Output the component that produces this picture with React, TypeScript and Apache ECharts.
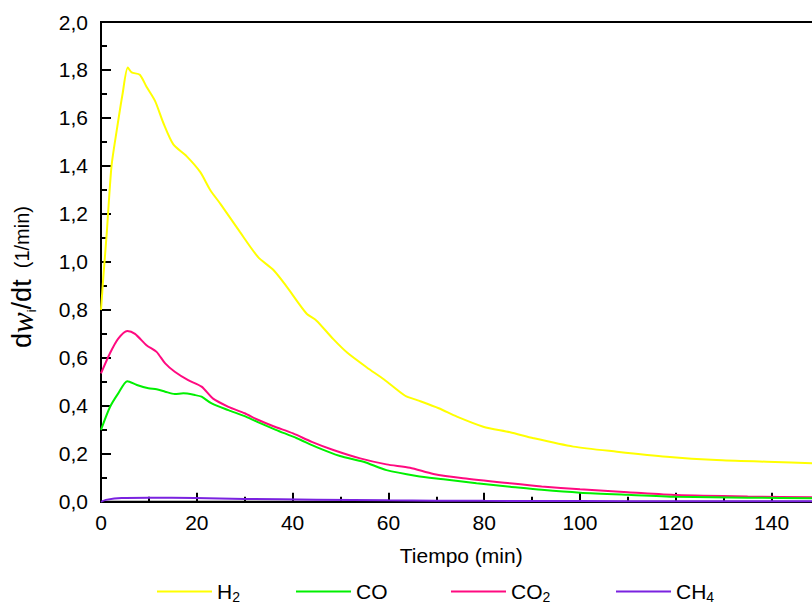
import React, { useEffect, useRef } from "react";
import * as echarts from "echarts";

// Time (min) and mass-loss rate dw_i/dt (1/min) for each gas
const h2Time = [0, 0.5, 1.2, 2.2, 3.3, 4.5, 5.6, 6.4, 8.1, 9.5, 11.3, 13, 15.1, 17.9, 20.7, 22.8, 25, 29, 32.8, 36, 38.8, 42.9, 45, 48.5, 51.5, 55.5, 59.1, 63.5, 66, 70.5, 74.3, 79.8, 85.4, 90.3, 98.6, 107.7, 118.1, 128.5, 139, 150];
const h2Rate = [0.8, 0.94, 1.12, 1.4, 1.55, 1.7, 1.81, 1.79, 1.78, 1.73, 1.67, 1.58, 1.49, 1.44, 1.375, 1.3, 1.24, 1.125, 1.02, 0.966, 0.896, 0.785, 0.755, 0.678, 0.62, 0.56, 0.51, 0.442, 0.424, 0.39, 0.355, 0.313, 0.29, 0.265, 0.23, 0.209, 0.188, 0.174, 0.167, 0.16];

const coTime = [0, 1.9, 3.6, 5.5, 7.5, 9.9, 11.6, 13.4, 15.4, 17.2, 19.6, 21, 23.1, 26.6, 30, 32.5, 36.5, 40.9, 45, 49.9, 54.8, 59.6, 65.9, 71.5, 78.4, 85.4, 92, 100, 110, 120.2, 135, 150];
const coRate = [0.3, 0.396, 0.452, 0.503, 0.487, 0.473, 0.469, 0.459, 0.449, 0.452, 0.445, 0.438, 0.41, 0.382, 0.357, 0.334, 0.3, 0.265, 0.228, 0.191, 0.167, 0.132, 0.108, 0.094, 0.077, 0.063, 0.05, 0.038, 0.029, 0.021, 0.017, 0.015];

const co2Time = [0, 1.9, 3.6, 5.5, 7.1, 9.5, 11.6, 13.4, 15.4, 18.2, 21, 23.4, 26.6, 30, 32.5, 36, 40.1, 44, 48.5, 54.1, 59.6, 64.5, 69.4, 75.6, 85.4, 92, 100, 110, 120.2, 135, 150];
const co2Rate = [0.535, 0.62, 0.68, 0.712, 0.7, 0.653, 0.625, 0.577, 0.542, 0.507, 0.48, 0.43, 0.396, 0.369, 0.344, 0.315, 0.285, 0.25, 0.216, 0.181, 0.156, 0.142, 0.116, 0.098, 0.077, 0.064, 0.052, 0.04, 0.028, 0.022, 0.019];

const ch4Time = [0, 1, 4.3, 10, 19.6, 30, 45, 60, 80, 100, 120, 150];
const ch4Rate = [0, 0.008, 0.016, 0.017, 0.016, 0.012, 0.009, 0.006, 0.004, 0.003, 0.002, 0.002];

const seriesNames = ["H2", "CO", "CO2", "CH4"];
const seriesColors = ["#FFFF00", "#00F000", "#FF0A80", "#7A22E0"];
const legendLeft = [152, 291, 446, 611];

const yTicks = [0, 0.2, 0.4, 0.6, 0.8, 1.0, 1.2, 1.4, 1.6, 1.8, 2.0];

const FONT = "Liberation Sans, Arial, sans-serif";

function zip(t: number[], v: number[]) {
  return t.map((x, i) => [x, v[i]]);
}

// Render "H2" -> "H{sub|2}" for legend subscripts
function withSub(name: string) {
  return name.replace(/(\d)/g, "{sub|$1}");
}

export default function App() {
  const ref = useRef<HTMLDivElement>(null);

  useEffect(() => {
    if (!ref.current) return;
    const chart = echarts.init(ref.current, null, { renderer: "svg" });

    const data = [zip(h2Time, h2Rate), zip(coTime, coRate), zip(co2Time, co2Rate), zip(ch4Time, ch4Rate)];

    const series = seriesNames.map((name, i) => ({
      name,
      type: "line",
      data: data[i],
      symbol: "none",
      smooth: 0.25,
      lineStyle: { color: seriesColors[i], width: 2 },
      itemStyle: { color: seriesColors[i] },
      z: 2 + (3 - i),
    }));

    const legends = seriesNames.map((name, i) => ({
      left: legendLeft[i],
      top: 576,
      data: [{ name, icon: "rect" }],
      itemWidth: 55,
      itemHeight: 2,
      itemGap: 0,
      formatter: (n: string) => withSub(n),
      textStyle: {
        fontFamily: FONT,
        fontSize: 21,
        color: "#000",
        rich: {
          sub: { fontFamily: FONT, fontSize: 14, verticalAlign: "bottom", padding: [10, 0, 0, 0], color: "#000" },
        },
      },
    }));

    chart.setOption({
      animation: false,
      backgroundColor: "#fff",
      grid: {
        left: 101,
        top: 22,
        width: 766.4,
        height: 479.8,
        show: true,
        borderColor: "#000",
        borderWidth: 2,
        containLabel: false,
        outerBoundsMode: "none",
      },
      legend: legends,
      xAxis: {
        type: "value",
        min: 0,
        max: 160,
        interval: 20,
        name: "Tiempo (min)",
        nameLocation: "middle",
        nameGap: 43,
        nameTextStyle: { fontFamily: FONT, fontSize: 21, color: "#000", padding: [0, 46, 0, 0] },
        axisLine: { show: true, onZero: false, lineStyle: { color: "#000", width: 2 } },
        axisTick: { show: true, inside: true, length: 9, lineStyle: { color: "#000", width: 2 } },
        minorTick: { show: true, splitNumber: 2, length: 5, lineStyle: { color: "#000", width: 2 } },
        axisLabel: { fontFamily: FONT, fontSize: 21, color: "#000", margin: 10, showMaxLabel: false },
        splitLine: { show: false },
      },
      yAxis: {
        type: "value",
        min: 0,
        max: 2,
        interval: 0.2,
        axisLine: { show: true, onZero: false, lineStyle: { color: "#000", width: 2 } },
        axisTick: { show: true, inside: true, length: 10, lineStyle: { color: "#000", width: 2 } },
        minorTick: { show: true, splitNumber: 2, length: 6, lineStyle: { color: "#000", width: 2 } },
        axisLabel: {
          fontFamily: FONT,
          fontSize: 21,
          color: "#000",
          margin: 13,
          formatter: (v: number) => {
            const t = yTicks.find((x) => Math.abs(x - v) < 1e-6);
            return (t !== undefined ? t : v).toFixed(1).replace(".", ",");
          },
        },
        splitLine: { show: false },
      },
      graphic: [
        {
          type: "text",
          x: 22,
          y: 277,
          rotation: Math.PI / 2,
          style: {
            text: "{d|d}{w|w}{i|i}{d|/dt}{u|  (1/min)}",
            align: "center",
            verticalAlign: "middle",
            fill: "#000",
            rich: {
              d: { fontFamily: FONT, fontSize: 27, fill: "#000" },
              w: { fontFamily: "Liberation Serif, DejaVu Serif, serif", fontStyle: "italic", fontSize: 31, fill: "#000" },
              i: { fontFamily: FONT, fontSize: 13, fill: "#000", verticalAlign: "bottom", padding: [14, 0, 0, 0] },
              u: { fontFamily: FONT, fontSize: 20, fill: "#000" },
            },
          },
        },
      ],
      series,
    });

    return () => chart.dispose();
  }, []);

  return <div ref={ref} style={{ width: 812, height: 604, position: "absolute", left: 0, top: 0 }} />;
}
